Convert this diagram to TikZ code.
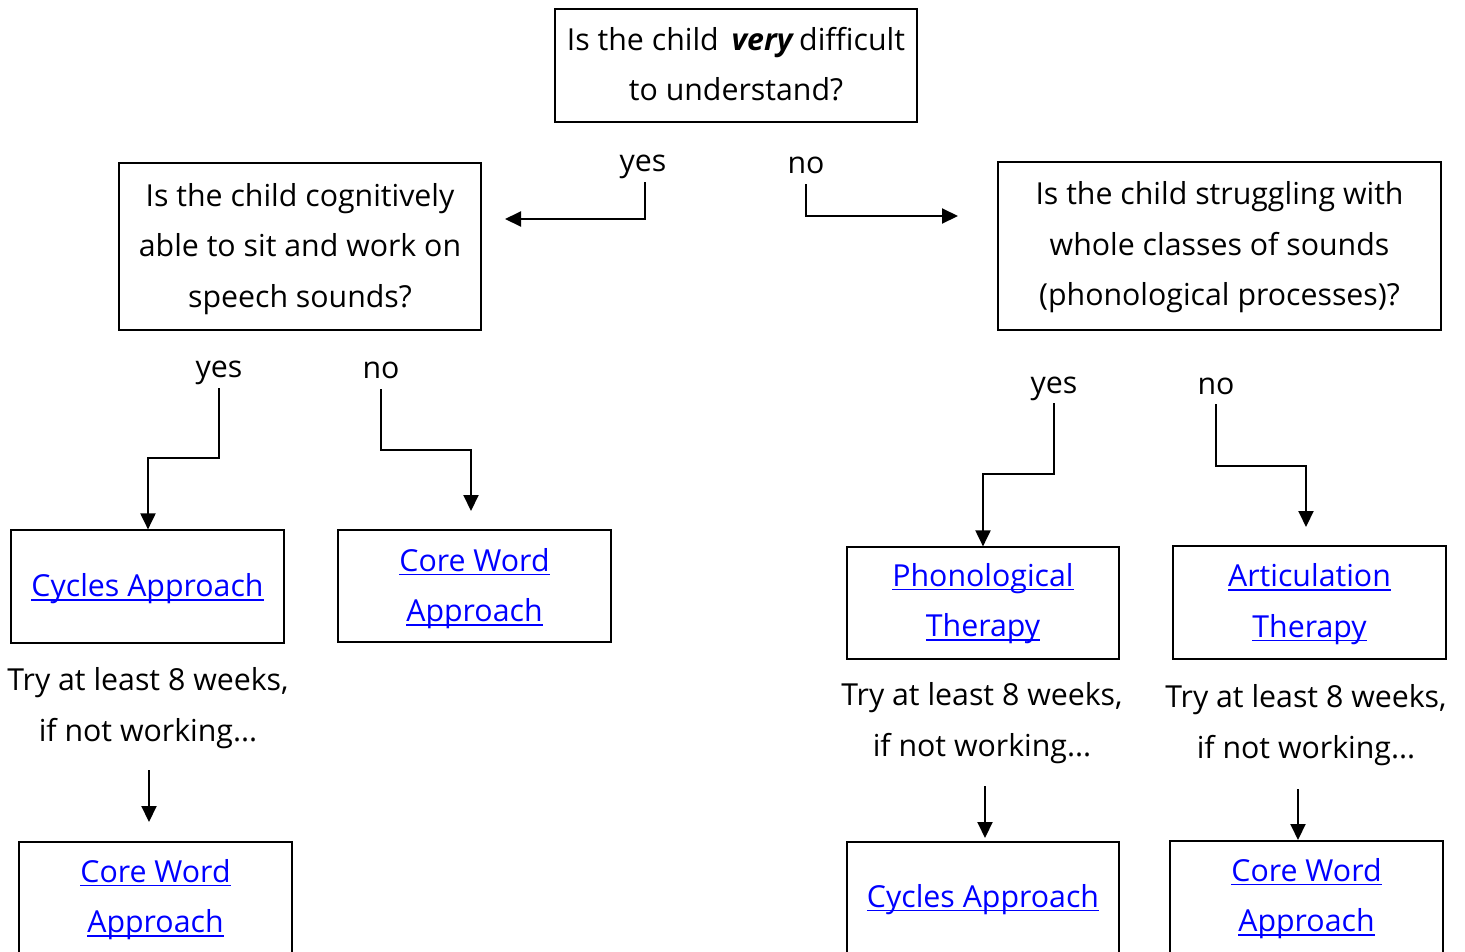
\documentclass[tikz,border=0pt]{standalone}
\usepackage{fontspec}
\setmainfont{Open Sans}
\usetikzlibrary{arrows.meta}
\definecolor{linkblue}{RGB}{0,0,255}
\newsavebox\lnkbox
\newcommand{\lnk}[1]{\sbox\lnkbox{#1}{\color{linkblue}\rlap{\rule[-4pt]{\wd\lnkbox}{1.6pt}}#1}}
\newcommand{\fs}{\fontsize{30.3}{50.5}\selectfont}
\tikzset{
  box/.style={draw, line width=1.2pt, inner sep=0pt},
  boxtxt/.style={inner sep=0pt, align=center, font=\fs, yshift=-2.5pt},
  lbl/.style={inner sep=0pt, anchor=base, font=\fs},
  txt/.style={inner sep=0pt, align=center, font=\fs},
  arr/.style={line width=2pt, -{Triangle[length=16pt,width=15pt]}},
}
\begin{document}
\begin{tikzpicture}[x=1pt,y=-1pt]
\useasboundingbox (0,0) rectangle (1465,951);
\clip (0,0) rectangle (1465,951);
% question boxes
\node[box, minimum width=362pt, minimum height=113pt, label={[boxtxt, yshift=4pt]center:Is the child \,\textbf{\textit{very}}\,difficult\\to understand?}] (q1) at (736,65.5) {};
\node[box, minimum width=362pt, minimum height=167pt, label={[boxtxt]center:Is the child cognitively\\able to sit and work on\\speech sounds?}] (q2) at (300,246.5) {};
\node[box, minimum width=443pt, minimum height=168pt, label={[boxtxt, yshift=1pt]center:Is the child struggling with\\whole classes of sounds\\(phonological processes)?}] (q3) at (1219.5,246) {};
% answer boxes
\node[box, minimum width=273pt, minimum height=113pt, label={[boxtxt]center:\lnk{Cycles Approach}}] (cyc1) at (147.5,586.5) {};
\node[box, minimum width=273pt, minimum height=112pt, label={[boxtxt]center:\lnk{Core Word}\\\lnk{Approach}}] (core1) at (474.5,586) {};
\node[box, minimum width=272pt, minimum height=112pt, label={[boxtxt, yshift=2pt]center:\lnk{Phonological}\\\lnk{Therapy}}] (phon) at (983,603) {};
\node[box, minimum width=273pt, minimum height=113pt, label={[boxtxt, yshift=1pt]center:\lnk{Articulation}\\\lnk{Therapy}}] (artic) at (1309.5,602.5) {};
\node[box, minimum width=273pt, minimum height=112pt, label={[boxtxt, yshift=1pt]center:\lnk{Core Word}\\\lnk{Approach}}] (core2) at (155.5,898) {};
\node[box, minimum width=272pt, minimum height=112pt, label={[boxtxt, yshift=1pt]center:\lnk{Cycles Approach}}] (cyc2) at (983,898) {};
\node[box, minimum width=273pt, minimum height=112pt, label={[boxtxt, yshift=1pt]center:\lnk{Core Word}\\\lnk{Approach}}] (core3) at (1306.5,897) {};
% try texts
\node[txt] (try1) at (148,708) {Try at least 8 weeks,\\if not working...};
\node[txt] (try2) at (982,723) {Try at least 8 weeks,\\if not working...};
\node[txt] (try3) at (1306,725) {Try at least 8 weeks,\\if not working...};
% labels
\node[lbl] (y1) at (643,171) {yes};
\node[lbl] (n1) at (806,173) {no};
\node[lbl] (y2) at (219,377) {yes};
\node[lbl] (n2) at (381,378) {no};
\node[lbl] (y3) at (1054,393) {yes};
\node[lbl] (n3) at (1216,394) {no};
% free ends
\coordinate (e1) at (505,219);
\coordinate (e2) at (958,216);
\coordinate (e3) at (471,511);
\coordinate (e4) at (1306,527);
\coordinate (e5) at (149,822);
\coordinate (e6) at (985,838);
\coordinate (e7) at (1298,840);
% connectors
\draw[arr] (645,182) |- (e1);
\draw[arr] (806,184) |- (e2);
\draw[arr] (219,388) -- (219,458) -| (cyc1.north -| 148,0);
\draw[arr] (381,389) -- (381,450) -| (e3);
\draw[arr] (1054,403) -- (1054,474) -| (phon.north);
\draw[arr] (1216,404) -- (1216,466) -| (e4);
\draw[arr] (149,770) -- (e5);
\draw[arr] (985,786) -- (e6);
\draw[arr] (1298,789) -- (e7);
\end{tikzpicture}
\end{document}
